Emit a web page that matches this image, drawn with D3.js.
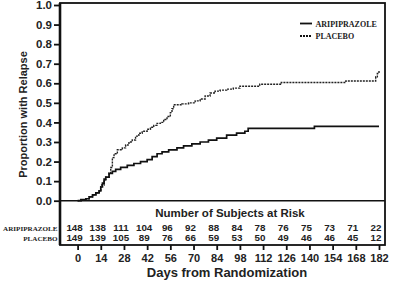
<!DOCTYPE html>
<html>
<head>
<meta charset="utf-8">
<script src="https://cdn.jsdelivr.net/npm/d3@7"></script>
<style>
  body { margin: 0; background: #fff; }
  svg { display: block; }
  .tick-lbl { font-family: "Liberation Sans", Arial, sans-serif; font-weight: bold; font-size: 11px; fill: #222; }
  .ytick-lbl { font-family: "Liberation Sans", Arial, sans-serif; font-weight: bold; font-size: 11.5px; fill: #222; }
  .risk-num { font-family: "Liberation Sans", Arial, sans-serif; font-weight: bold; font-size: 9.8px; fill: #222; }
  .serif-lbl { font-family: "Liberation Serif", "Times New Roman", serif; font-weight: bold; fill: #222; }
</style>
</head>
<body>
<svg id="chart" width="400" height="288"></svg>
<script>
// ===== Kaplan-Meier relapse curves =====

var groups = ["ARIPIPRAZOLE", "PLACEBO"];

// [day, proportion]
var aripiprazoleCurve = [
  [0, 0], [2, 0.005], [5, 0.01], [7, 0.02], [9, 0.03], [11, 0.04], [13, 0.05],
  [14, 0.07], [15, 0.09], [16, 0.11], [17, 0.12], [19, 0.14], [21, 0.15], [23, 0.16],
  [26, 0.17], [30, 0.18], [34, 0.19], [38, 0.2], [42, 0.21], [45, 0.225], [48, 0.24],
  [51, 0.25], [55, 0.26], [60, 0.27], [64, 0.28], [69, 0.29], [74, 0.3], [79, 0.31],
  [84, 0.32], [90, 0.335], [96, 0.345], [101, 0.355], [103, 0.37], [143, 0.38], [182, 0.38]
];

var placeboCurve = [
  [0, 0], [2, 0.005], [5, 0.01], [7, 0.02], [9, 0.03], [11, 0.04], [13, 0.05],
  [14, 0.08], [16, 0.1], [17, 0.12], [19, 0.14], [20, 0.17], [21, 0.22], [22, 0.24],
  [24, 0.26], [27, 0.27], [29, 0.285], [31, 0.3], [33, 0.31], [35, 0.33], [37, 0.345],
  [39, 0.355], [42, 0.365], [44, 0.375], [46, 0.385], [48, 0.395], [50, 0.4], [52, 0.415],
  [54, 0.43], [56, 0.45], [57, 0.47], [58, 0.49], [63, 0.495], [67, 0.5], [71, 0.51],
  [74, 0.52], [77, 0.535], [80, 0.55], [83, 0.56], [86, 0.565], [90, 0.57], [94, 0.575],
  [98, 0.585], [110, 0.595], [123, 0.604], [162, 0.612], [180, 0.633], [181, 0.65], [182, 0.663]
];

var dayTicks = [0, 14, 28, 42, 56, 70, 84, 98, 112, 126, 140, 154, 168, 182];
var propTicks = [0, 0.1, 0.2, 0.3, 0.4, 0.5, 0.6, 0.7, 0.8, 0.9, 1.0];

var atRiskAripiprazole = [148, 138, 111, 104, 96, 92, 88, 84, 78, 76, 75, 73, 71, 22];
var atRiskPlacebo = [149, 139, 105, 89, 76, 66, 59, 53, 50, 49, 46, 46, 45, 12];

var svg = d3.select("#chart");

var boxLeft = 60, boxRight = 385, boxTop = 3, boxBottom = 245;

var x = d3.scaleLinear().domain([0, 182]).range([77.6, 379]);
var y = d3.scaleLinear().domain([0, 1]).range([200.7, 5]);

// Box
svg.append("rect")
  .attr("x", boxLeft).attr("y", boxTop)
  .attr("width", boxRight - boxLeft).attr("height", boxBottom - boxTop)
  .attr("fill", "none").attr("stroke", "#111").attr("stroke-width", 1.8);
svg.append("line")
  .attr("x1", boxLeft).attr("x2", boxLeft).attr("y1", boxTop).attr("y2", boxBottom)
  .attr("stroke", "#111").attr("stroke-width", 2.6);

// Zero line
svg.append("line")
  .attr("x1", boxLeft).attr("x2", boxRight).attr("y1", y(0)).attr("y2", y(0))
  .attr("stroke", "#111").attr("stroke-width", 1.4);

// Y axis
var yAxis = d3.axisLeft(y).tickValues(propTicks).tickFormat(d3.format(".1f")).tickSize(6).tickPadding(2);
var yg = svg.append("g").attr("transform", "translate(" + boxLeft + ",0)").call(yAxis);
yg.select(".domain").remove();
yg.selectAll(".tick line").attr("stroke", "#111").attr("stroke-width", 1.8);
yg.selectAll(".tick text").attr("class", "ytick-lbl").attr("font-size", null).attr("font-family", null);

// X axis (ticks below the at-risk table)
var xAxis = d3.axisBottom(x).tickValues(dayTicks).tickSize(5).tickPadding(4);
var xg = svg.append("g").attr("transform", "translate(0," + boxBottom + ")").call(xAxis);
xg.select(".domain").remove();
xg.selectAll(".tick line").attr("stroke", "#111").attr("stroke-width", 1.8);
xg.selectAll(".tick text").attr("class", "tick-lbl").attr("font-size", null).attr("font-family", null);

// Axis titles
svg.append("text")
  .attr("transform", "translate(27,114.5) rotate(-90)")
  .attr("text-anchor", "middle")
  .attr("font-family", "Liberation Sans, Arial, sans-serif")
  .attr("font-weight", "bold").attr("font-size", 11).attr("fill", "#222")
  .text("Proportion with Relapse");

svg.append("text")
  .attr("x", 227).attr("y", 277)
  .attr("text-anchor", "middle")
  .attr("font-family", "Liberation Sans, Arial, sans-serif")
  .attr("font-weight", "bold").attr("font-size", 13).attr("fill", "#222")
  .text("Days from Randomization");

// Curves
var line = d3.line()
  .x(function(d) { return x(d[0]); })
  .y(function(d) { return y(d[1]); })
  .curve(d3.curveStepAfter);

svg.append("path").datum(placeboCurve)
  .attr("d", line).attr("fill", "none")
  .attr("stroke", "#222").attr("stroke-width", 1.4).attr("stroke-dasharray", "2,1");

svg.append("path").datum(aripiprazoleCurve)
  .attr("d", line).attr("fill", "none")
  .attr("stroke", "#111").attr("stroke-width", 1.7);

// Legend
var legG = svg.append("g").attr("transform", "translate(300,23.5)");
groups.forEach(function(g, i) {
  legG.append("line")
    .attr("x1", 0).attr("x2", 12).attr("y1", i * 12.5).attr("y2", i * 12.5)
    .attr("stroke", "#111").attr("stroke-width", 1.8)
    .attr("stroke-dasharray", i === 1 ? "2,1" : null);
  legG.append("text").attr("class", "serif-lbl")
    .attr("font-size", 8)
    .attr("x", 15.5).attr("y", i * 12.5 + 3)
    .text(g);
});

// At-risk table
svg.append("text")
  .attr("x", 230).attr("y", 217.3)
  .attr("text-anchor", "middle")
  .attr("font-family", "Liberation Sans, Arial, sans-serif")
  .attr("font-weight", "bold").attr("font-size", 11.5).attr("fill", "#222")
  .text("Number of Subjects at Risk");

var riskRows = [atRiskAripiprazole, atRiskPlacebo];
riskRows.forEach(function(row, r) {
  var ry = 231 + r * 9.8;
  svg.append("text").attr("class", "serif-lbl")
    .attr("font-size", 7.1)
    .attr("x", 57.5).attr("y", ry - 0.3).attr("text-anchor", "end")
    .text(groups[r]);
  svg.selectAll(".risk-" + r)
    .data(row)
    .join("text")
    .attr("class", "risk-num risk-" + r)
    .attr("x", function(d, i) { return x(dayTicks[i]) - 3; })
    .attr("y", ry)
    .attr("text-anchor", "middle")
    .text(function(d) { return d; });
});
</script>
</body>
</html>
